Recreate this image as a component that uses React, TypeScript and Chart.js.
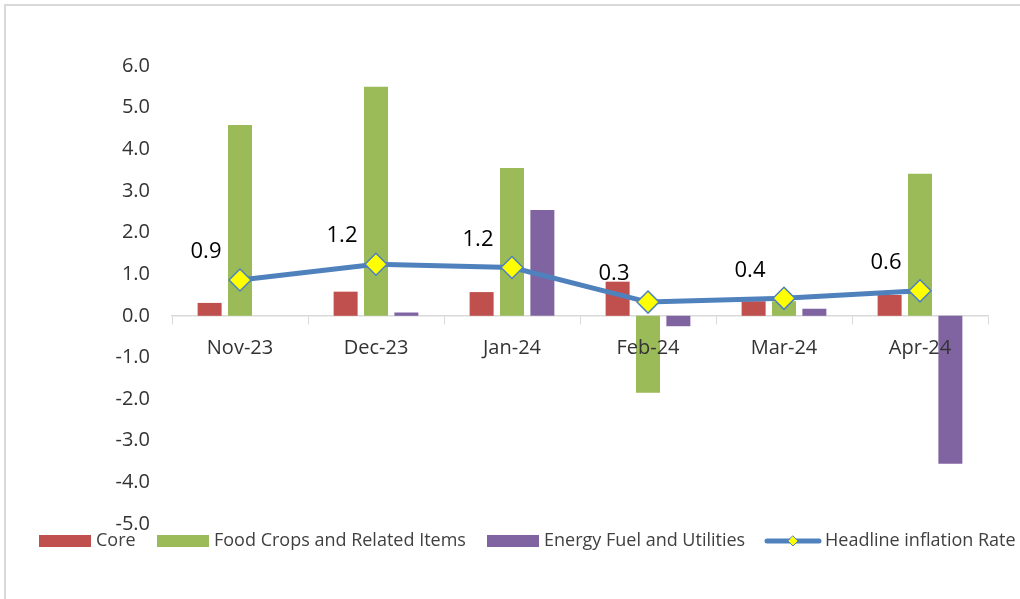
import React, { useEffect, useRef } from "react";
import { Chart, registerables } from "chart.js";

Chart.register(...registerables);

const categories = ["Nov-23", "Dec-23", "Jan-24", "Feb-24", "Mar-24", "Apr-24"];
const coreValues = [0.31, 0.58, 0.57, 0.82, 0.35, 0.5];
const foodValues = [4.58, 5.5, 3.55, -1.85, 0.35, 3.41];
const energyValues = [0.0, 0.08, 2.54, -0.25, 0.17, -3.55];
const headlineValues = [0.86, 1.24, 1.16, 0.33, 0.42, 0.6];
const headlineLabels = ["0.9", "1.2", "1.2", "0.3", "0.4", "0.6"];

const seriesNames = ["Core", "Food Crops and Related Items", "Energy Fuel and Utilities", "Headline inflation Rate"];
const RED = "#C0504D";
const GREEN = "#9BBB59";
const PURPLE = "#8064A2";
const BLUE = "#4F81BD";
const FONT = "'Open Sans', 'DejaVu Sans', sans-serif";

const framePlugin = {
  id: "frame",
  beforeDraw(chart: any) {
    const ctx = chart.ctx;
    ctx.save();
    ctx.fillStyle = "#ffffff";
    ctx.fillRect(0, 0, chart.width, chart.height);
    ctx.strokeStyle = "#d9d9d9";
    ctx.lineWidth = 2;
    ctx.beginPath();
    ctx.moveTo(5, chart.height + 2);
    ctx.lineTo(5, 5);
    ctx.lineTo(chart.width + 2, 5);
    ctx.stroke();
    ctx.restore();
  },
};

const labelPlugin = {
  id: "pointLabels",
  afterDraw(chart: any) {
    const ctx = chart.ctx;
    const meta = chart.getDatasetMeta(3);
    ctx.save();
    ctx.fillStyle = "#000000";
    ctx.font = `22px ${FONT}`;
    ctx.textAlign = "center";
    ctx.textBaseline = "middle";
    meta.data.forEach((pt: any, i: number) => {
      ctx.fillText(headlineLabels[i], pt.x - 34, pt.y - 28);
    });
    ctx.restore();
  },
};

const legendPlugin = {
  id: "customLegend",
  afterDraw(chart: any) {
    const ctx = chart.ctx;
    const y = 541;
    ctx.save();
    ctx.font = `18px ${FONT}`;
    ctx.textBaseline = "middle";
    ctx.textAlign = "left";
    const colors = [RED, GREEN, PURPLE];
    const boxX = [39, 157, 487];
    for (let i = 0; i < 3; i++) {
      ctx.fillStyle = colors[i];
      ctx.fillRect(boxX[i], y - 6, 52, 12);
      ctx.fillStyle = "#404040";
      ctx.fillText(seriesNames[i], boxX[i] + 57, y);
    }
    ctx.strokeStyle = BLUE;
    ctx.lineWidth = 5;
    ctx.lineCap = "round";
    ctx.beginPath();
    ctx.moveTo(767, y);
    ctx.lineTo(819, y);
    ctx.stroke();
    ctx.fillStyle = "#FFFF00";
    ctx.strokeStyle = BLUE;
    ctx.lineWidth = 1;
    ctx.beginPath();
    ctx.moveTo(793, y - 5);
    ctx.lineTo(798, y);
    ctx.lineTo(793, y + 5);
    ctx.lineTo(788, y);
    ctx.closePath();
    ctx.fill();
    ctx.stroke();
    ctx.fillStyle = "#404040";
    ctx.fillText(seriesNames[3], 825, y);
    ctx.restore();
  },
};

export default function App() {
  const ref = useRef<HTMLCanvasElement | null>(null);
  useEffect(() => {
    if (!ref.current) return;
    const barCommon = { categoryPercentage: 0.67, barPercentage: 0.79, order: 2 };
    const chart = new Chart(ref.current, {
      type: "bar",
      data: {
        labels: categories,
        datasets: [
          { label: seriesNames[0], data: coreValues, backgroundColor: RED, ...barCommon },
          { label: seriesNames[1], data: foodValues, backgroundColor: GREEN, ...barCommon },
          { label: seriesNames[2], data: energyValues, backgroundColor: PURPLE, ...barCommon },
          {
            type: "line",
            label: seriesNames[3],
            data: headlineValues,
            borderColor: BLUE,
            borderWidth: 5,
            pointStyle: "rectRot",
            pointRadius: 11,
            pointBackgroundColor: "#FFFF00",
            pointBorderColor: BLUE,
            pointBorderWidth: 1.5,
            tension: 0,
            order: 1,
          } as any,
        ],
      },
      options: {
        animation: false,
        responsive: false,
        layout: { padding: { left: 0, top: 66, right: 32, bottom: 75 } },
        plugins: { legend: { display: false }, tooltip: { enabled: false } },
        scales: {
          x: {
            position: { y: 0 } as any,
            grid: { display: true, drawOnChartArea: false, drawTicks: true, tickLength: 8, color: "#d9d9d9", offset: true },
            border: { display: true, color: "#d9d9d9", width: 1.5 },
            ticks: { color: "#333333", font: { family: FONT, size: 20 }, padding: 12, z: 1 },
          } as any,
          y: {
            min: -5,
            max: 6,
            grid: { display: false, drawTicks: false },
            border: { display: false },
            afterFit(scale: any) {
              scale.width = 172;
            },
            ticks: {
              stepSize: 1,
              padding: 22,
              color: "#333333",
              font: { family: FONT, size: 20 },
              callback: (v: any) => Number(v).toFixed(1),
            },
          },
        },
      },
      plugins: [framePlugin, labelPlugin, legendPlugin],
    });
    return () => chart.destroy();
  }, []);
  return (
    <div style={{ position: "fixed", left: 0, top: 0, width: 1020, height: 599 }}>
      <canvas ref={ref} width={1020} height={599} style={{ width: 1020, height: 599, display: "block" }} />
    </div>
  );
}
